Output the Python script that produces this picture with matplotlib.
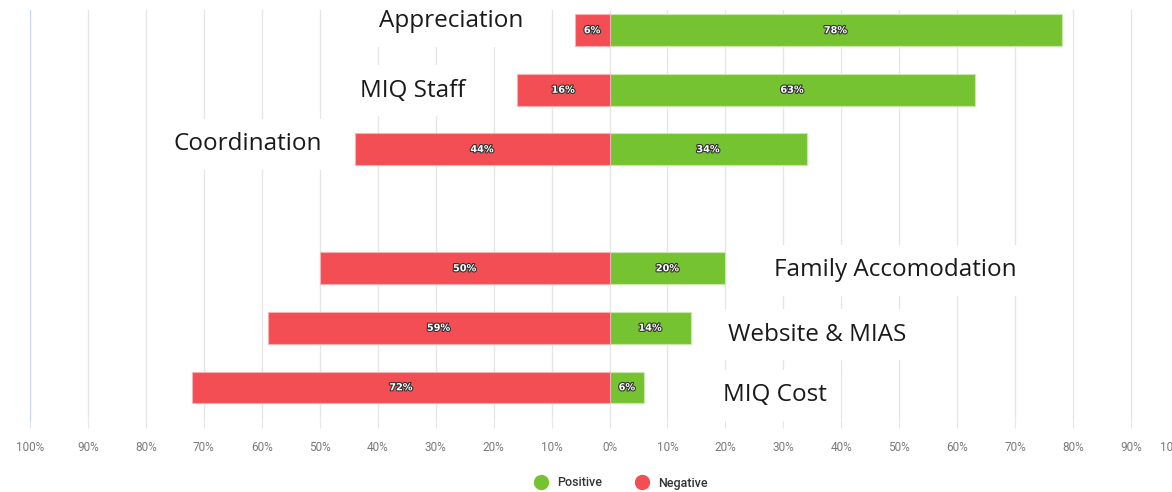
import matplotlib.pyplot as plt
import matplotlib.patheffects as pe
import matplotlib.transforms as mtransforms
from matplotlib.lines import Line2D

# data (percent of responses)
categories = ['Appreciation', 'MIQ Staff', 'Coordination', '',
              'Family Accomodation', 'Website & MIAS', 'MIQ Cost']
positive = [78, 63, 34, None, 20, 14, 6]
negative = [6, 16, 44, None, 50, 59, 72]
tick_values = list(range(-100, 101, 10))

green = '#76c332'
red = '#f24e54'
grid_col = '#e6e6e6'

fig = plt.figure(figsize=(11.72, 4.92), dpi=100)
ax = fig.add_axes([30 / 1172, 72 / 492, 1159 / 1172, 410 / 492])

rows = list(range(len(categories)))
for i in rows:
    if positive[i] is None:
        continue
    ax.barh(i, positive[i], height=0.53, color=green, edgecolor='#c8e8ad', linewidth=0.8, zorder=3)
    ax.barh(i, -negative[i], height=0.53, color=red, edgecolor='#f9b0b2', linewidth=0.8, zorder=3)
    for val, xc in [(positive[i], positive[i] / 2), (negative[i], -negative[i] / 2)]:
        ax.text(xc, i, f'{val}%', ha='center', va='center', color='white', fontsize=7,
                fontweight='bold', zorder=5,
                path_effects=[pe.withStroke(linewidth=1.6, foreground='#333333')])

# category labels sit beside the bars, on a white box that hides the grid
label_offsets = [(-51, 9, 'right'), (-51, -1, 'right'), (-33, 5, 'right'), None,
                 (49, -2, 'left'), (37, -7, 'left'), (79, -8, 'left')]
for i in rows:
    off = label_offsets[i]
    if off is None:
        continue
    dx, dy, ha = off
    xb = -negative[i] if ha == 'right' else positive[i]
    ax.annotate(categories[i], (xb, i), xytext=(dx, dy), textcoords='offset pixels',
                ha=ha, va='center', fontsize=17.5, family='Open Sans', color='#1a1a1a', zorder=4,
                bbox=dict(boxstyle='square,pad=0.55', facecolor='white', edgecolor='none'))

ax.set_xlim(-100, 100)
ax.set_ylim(6.55, -0.34)
ax.set_xticks(tick_values)
ax.set_xticklabels([f'{abs(v)}%' for v in tick_values], fontsize=8.5, color='#7a7a7a', family='Roboto')
ax.set_yticks([])
ax.grid(axis='x', color=grid_col, linewidth=1, zorder=0)
ax.tick_params(axis='x', length=6, color='#e6e6e6', pad=9)
for s in ['top', 'right', 'bottom']:
    ax.spines[s].set_visible(False)
ax.spines['left'].set_color('#ccd6eb')

# last label is pushed in a little, as in the original (still runs off the edge)
last = ax.get_xticklabels()[-1]
last.set_transform(last.get_transform() + mtransforms.ScaledTranslation(-15 / 100, 0, fig.dpi_scale_trans))

handles = [Line2D([], [], marker='o', linestyle='', markersize=10, color=green, label='Positive'),
           Line2D([], [], marker='o', linestyle='', markersize=10, color=red, label='Negative')]
fig.legend(handles=handles, loc='center', bbox_to_anchor=(618 / 1172, 1 - 483 / 492), ncol=2,
           frameon=False, prop={'family': 'Roboto', 'size': 9, 'weight': 'medium'},
           labelcolor='#333333', handletextpad=0.3, columnspacing=2.2)

fig.savefig('out.png', dpi=100)
